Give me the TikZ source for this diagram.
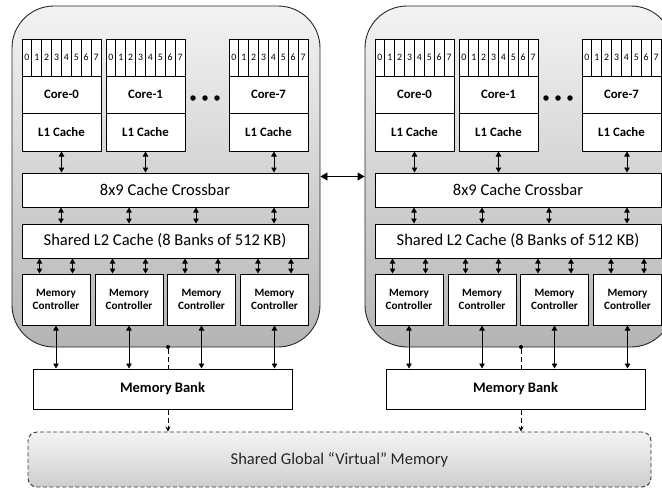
\documentclass[tikz,border=0pt]{standalone}
\usepackage{fontspec}
\setmainfont{Carlito}
\usetikzlibrary{arrows.meta,calc}
\definecolor{chiptop}{RGB}{243,243,243}
\definecolor{chipbot}{RGB}{180,180,180}
\definecolor{gmtop}{RGB}{244,244,244}
\definecolor{gmbot}{RGB}{206,206,206}
\tikzset{
  arrtip/.tip={Triangle[length=5pt,width=5.5pt]},
  bigtip/.tip={Triangle[length=7pt,width=8pt]},
  plainbox/.style={draw=black, line width=1pt, fill=white, inner sep=0pt, align=center},
  bitcell/.style={plainbox, minimum width=9.875pt, minimum height=37pt, font=\fontsize{9.8}{10}\selectfont},
  corebox/.style={plainbox, minimum width=79pt, minimum height=37.5pt, font=\bfseries\fontsize{12.8}{14}\selectfont},
  widebox/.style={plainbox, minimum width=286pt, minimum height=34pt, font=\fontsize{16.5}{18}\selectfont},
  mcbox/.style={plainbox, minimum width=68pt, minimum height=51pt, font=\bfseries\fontsize{11.2}{13}\selectfont},
  bankbox/.style={plainbox, minimum width=259pt, minimum height=40pt, font=\bfseries\fontsize{14.5}{16}\selectfont},
  chipbox/.style={draw=black!85, line width=0.9pt, rounded corners=42pt, top color=chiptop, bottom color=chipbot, minimum width=308pt, minimum height=341pt, inner sep=0pt},
  gmembox/.style={draw=black!80, line width=0.9pt, dash pattern=on 4pt off 2.5pt, rounded corners=9pt, top color=gmtop, bottom color=gmbot, minimum width=623pt, minimum height=55pt, inner sep=0pt, font=\fontsize{16.5}{18}\selectfont, text=black!85},
  dbl/.style={line width=0.8pt, arrtip-arrtip},
  bigdbl/.style={line width=0.9pt, bigtip-bigtip},
  dashline/.style={line width=0.8pt, dash pattern=on 5pt off 3pt},
  dasharrow/.style={line width=0.8pt, dash pattern=on 5pt off 3pt, -{Stealth[length=5pt,width=5pt]}},
  tapdot/.style={circle, fill=black, inner sep=0pt, minimum size=4pt},
  ellipsisdot/.style={circle, fill=black, inner sep=0pt, minimum size=5.5pt}
}
\begin{document}
\begin{tikzpicture}[x=1pt,y=-1pt]
\useasboundingbox (0,0) rectangle (662,491);
\clip (0,0) rectangle (662,491);

% shared global memory
\node[gmembox] (gmem) at (339.5,459.5) {Shared Global “Virtual” Memory};

% two identical chips
\foreach \c/\dx in {L/0,R/353}{
\begin{scope}[xshift=\dx pt]
  \node[chipbox] (\c-chip) at (166,176.5) {};

  % cores with register slots and L1 caches
  \foreach \k/\cx in {0/61.5,1/145.5,7/268.5}{
    \foreach \j in {0,...,7}
      \node[bitcell] (\c-bit\k-\j) at ({\cx-39.5+9.875*(\j+0.5)},57.5) {\j};
    \node[corebox] (\c-core\k) at (\cx,94.75) {Core-\k};
    \node[corebox] (\c-lone\k) at (\cx,132.25) {L1 Cache};
  }
  \foreach \d/\px in {1/193,2/205,3/217}
    \node[ellipsisdot] (\c-dot\d) at (\px,98) {};

  \node[widebox] (\c-xbar) at (165,190) {8x9 Cache Crossbar};
  \node[widebox] (\c-ltwo) at (165,241) {Shared L2 Cache (8 Banks of 512 KB)};

  \foreach \m/\mx in {1/56,2/129,3/201.5,4/274.5}
    \node[mcbox] (\c-mc\m) at (\mx,299.5) {Memory\\Controller};

  \node[bankbox] (\c-bank) at (162.5,389) {Memory Bank};
  \node[tapdot] (\c-tap) at (168,347) {};

  % L1 to crossbar
  \draw[dbl] (\c-lone0.south) -- (\c-lone0.south |- \c-xbar.north);
  \draw[dbl] (\c-lone1.south) -- (\c-lone1.south |- \c-xbar.north);
  \draw[dbl] ([xshift=5.5pt]\c-lone7.south) -- ([xshift=5.5pt]\c-lone7.south |- \c-xbar.north);

  % crossbar to L2
  \foreach \ax in {61,129,196,274}
    \draw[dbl] (\c-xbar.south -| \ax,0) -- (\c-ltwo.north -| \ax,0);

  % L2 to memory controllers, controllers to bank
  \foreach \m in {1,2,3,4}{
    \draw[dbl] ([xshift=-16.5pt]\c-mc\m.north) -- ([xshift=-16.5pt]\c-mc\m.north |- \c-ltwo.south);
    \draw[dbl] ([xshift=16.5pt]\c-mc\m.north) -- ([xshift=16.5pt]\c-mc\m.north |- \c-ltwo.south);
    \draw[dbl] (\c-mc\m.south) -- (\c-mc\m.south |- \c-bank.north);
  }

  % bank to global memory
  \draw[dashline] (\c-tap) -- (\c-tap |- \c-bank.north);
  \draw[dasharrow] (\c-bank.south -| \c-tap) -- (\c-tap |- gmem.north);
\end{scope}
}

% chip interconnect
\draw[bigdbl] (L-chip.east) -- (R-chip.west);
\end{tikzpicture}
\end{document}
